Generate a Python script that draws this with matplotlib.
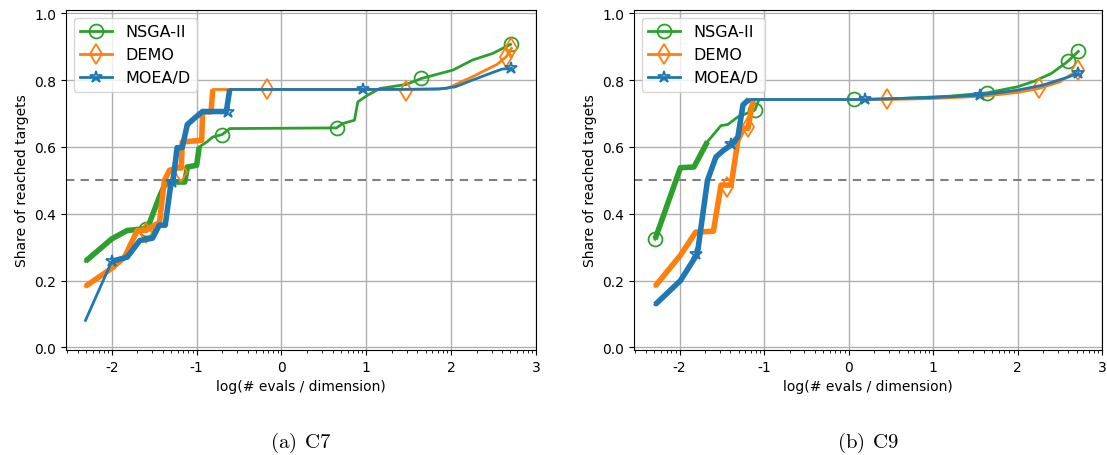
import numpy as np
from matplotlib import pyplot as plt
from matplotlib.lines import Line2D

plt.rcParams['axes.unicode_minus'] = False
plt.rcParams['mathtext.fontset'] = 'cm'

names = ['NSGA-II', 'DEMO', 'MOEA/D']
colors = ['#2ca02c', '#ff7f0e', '#1f77b4']
markers = ['o', 'd', '*']

#C7 data
c7_nsga_x = [-2.31, -2.0, -1.82, -1.62, -1.56, -1.44, -1.36, -1.14, -1.11, -1.0, -0.97, -0.88, -0.81, -0.70,
             -0.61, 0.65, 0.72, 0.86, 0.90, 1.01, 1.16, 1.47, 1.65, 2.02, 2.25, 2.49, 2.70]
c7_nsga_y = [0.258, 0.325, 0.35, 0.355, 0.37, 0.45, 0.495, 0.495, 0.54, 0.545, 0.60, 0.615, 0.63, 0.637,
             0.655, 0.657, 0.67, 0.68, 0.735, 0.754, 0.775, 0.787, 0.805, 0.83, 0.86, 0.88, 0.907]
c7_nsga_thick = (0, 10)
c7_nsga_mx = [-1.6, -0.70, 0.65, 1.65, 2.70]
c7_nsga_my = [0.355, 0.637, 0.657, 0.805, 0.907]

c7_demo_x = [-2.31, -2.0, -1.85, -1.70, -1.60, -1.47, -1.44, -1.38, -1.32, -1.24, -1.18, -1.17, -0.94, -0.93,
             -0.83, -0.81, 1.5, 1.95, 2.25, 2.54, 2.65, 2.71]
c7_demo_y = [0.183, 0.237, 0.27, 0.35, 0.35, 0.37, 0.37, 0.50, 0.53, 0.537, 0.537, 0.615, 0.62, 0.705,
             0.705, 0.772, 0.772, 0.775, 0.81, 0.847, 0.87, 0.895]
c7_demo_thick = (0, 15)
c7_demo_mx = [-1.6, -1.18, -0.17, 1.47, 2.65, 2.71]
c7_demo_my = [0.342, 0.526, 0.772, 0.768, 0.87, 0.895]

c7_moead_x = [-2.31, -2.0, -1.82, -1.67, -1.52, -1.44, -1.37, -1.30, -1.28, -1.23, -1.17, -1.11, -1.03, -0.93,
              -0.65, -0.61, 0.96, 1.85, 2.05, 2.25, 2.49, 2.6, 2.71]
c7_moead_y = [0.081, 0.258, 0.27, 0.32, 0.327, 0.366, 0.366, 0.496, 0.496, 0.598, 0.598, 0.667, 0.685, 0.706,
              0.706, 0.772, 0.772, 0.773, 0.78, 0.80, 0.823, 0.833, 0.835]
c7_moead_thick = (1, 15)
c7_moead_mx = [-2.0, -1.29, -0.63, 0.96, 2.71]
c7_moead_my = [0.258, 0.496, 0.706, 0.772, 0.835]

#C9 data
c9_nsga_x = [-2.29, -1.99, -1.83, -1.67, -1.51, -1.43, -1.31, -1.24, -1.11, -1.06, 0.07, 0.6, 1.2, 1.64,
             2.0, 2.2, 2.4, 2.59, 2.72]
c9_nsga_y = [0.324, 0.538, 0.54, 0.616, 0.664, 0.667, 0.69, 0.697, 0.71, 0.742, 0.742, 0.745, 0.752, 0.762,
             0.78, 0.797, 0.82, 0.855, 0.886]
c9_nsga_thick = (0, 3)
c9_nsga_mx = [-2.29, -1.11, 0.07, 1.64, 2.6, 2.72]
c9_nsga_my = [0.324, 0.71, 0.742, 0.76, 0.857, 0.886]

c9_demo_x = [-2.29, -1.99, -1.81, -1.60, -1.51, -1.39, -1.31, -1.24, -1.19, -1.13, 0.46, 1.0, 1.6, 2.0,
             2.25, 2.5, 2.72]
c9_demo_y = [0.183, 0.276, 0.345, 0.348, 0.486, 0.486, 0.62, 0.656, 0.656, 0.742, 0.742, 0.745, 0.752, 0.763,
             0.775, 0.795, 0.83]
c9_demo_thick = (0, 9)
c9_demo_mx = [-1.44, -1.19, 0.46, 2.25, 2.72]
c9_demo_my = [0.48, 0.66, 0.742, 0.775, 0.83]

c9_moead_x = [-2.29, -1.99, -1.79, -1.67, -1.57, -1.48, -1.39, -1.31, -1.25, -1.18, 0.2, 1.0, 1.55, 2.0,
              2.3, 2.55, 2.72]
c9_moead_y = [0.128, 0.20, 0.28, 0.50, 0.57, 0.59, 0.606, 0.63, 0.726, 0.742, 0.742, 0.748, 0.755, 0.77,
              0.785, 0.805, 0.82]
c9_moead_thick = (0, 9)
c9_moead_mx = [-1.8, -1.39, 0.2, 1.55, 2.72]
c9_moead_my = [0.28, 0.61, 0.742, 0.755, 0.82]

panels = [
    ('(a)\\;\\,C7', [(c7_nsga_x, c7_nsga_y, c7_nsga_thick, c7_nsga_mx, c7_nsga_my),
                     (c7_demo_x, c7_demo_y, c7_demo_thick, c7_demo_mx, c7_demo_my),
                     (c7_moead_x, c7_moead_y, c7_moead_thick, c7_moead_mx, c7_moead_my)]),
    ('(b)\\;\\,C9', [(c9_nsga_x, c9_nsga_y, c9_nsga_thick, c9_nsga_mx, c9_nsga_my),
                     (c9_demo_x, c9_demo_y, c9_demo_thick, c9_demo_mx, c9_demo_my),
                     (c9_moead_x, c9_moead_y, c9_moead_thick, c9_moead_mx, c9_moead_my)]),
]

fig = plt.figure(figsize=(11.07, 4.56), dpi=100)
axes = [fig.add_axes([0.0596, 0.230, 0.4246, 0.746]),
        fig.add_axes([0.5727, 0.230, 0.4228, 0.746])]

minor = [d + np.log10(k) for d in range(-3, 3) for k in range(2, 10)]

for ax, (caption, series) in zip(axes, panels):
    ax.grid(True, color='#b0b0b0', lw=1)
    ax.set_axisbelow(True)
    ax.axhline(0.5, color='gray', ls='--', lw=1.5, dashes=(4, 3))
    for (x, y, thick, mx, my), c, m in zip(series, colors, markers):
        ax.plot(x, y, color=c, lw=2)
        a, b = thick
        ax.plot(x[a:b + 1], y[a:b + 1], color=c, lw=4, solid_capstyle='butt')
        ax.plot(mx, my, ls='none', marker=m, color=c, mfc='none', ms=10 if m != '*' else 9, mew=1.3)
    ax.set_xlim(-2.54, 3)
    ax.set_ylim(-0.008, 1.01)
    ax.set_xticks([-2, -1, 0, 1, 2, 3])
    ax.set_xticks([v for v in minor if -2.54 < v < 3], minor=True)
    ax.set_yticks([0.0, 0.2, 0.4, 0.6, 0.8, 1.0])
    ax.tick_params(labelsize=10)
    ax.set_xlabel('log(# evals / dimension)', fontsize=10)
    ax.set_ylabel('Share of reached targets', fontsize=10)
    handles = [Line2D([], [], color=c, lw=2, marker=m, mfc='none', ms=10 if m != '*' else 9, mew=1.3)
               for c, m in zip(colors, markers)]
    ax.legend(handles, names, loc='upper left', fontsize=11.5)
    pos = ax.get_position()
    fig.text((pos.x0 + pos.x1) / 2, 0.028, '$\\mathrm{' + caption + '}$', ha='center', va='center', fontsize=15)

plt.savefig('out.png', dpi=100)
